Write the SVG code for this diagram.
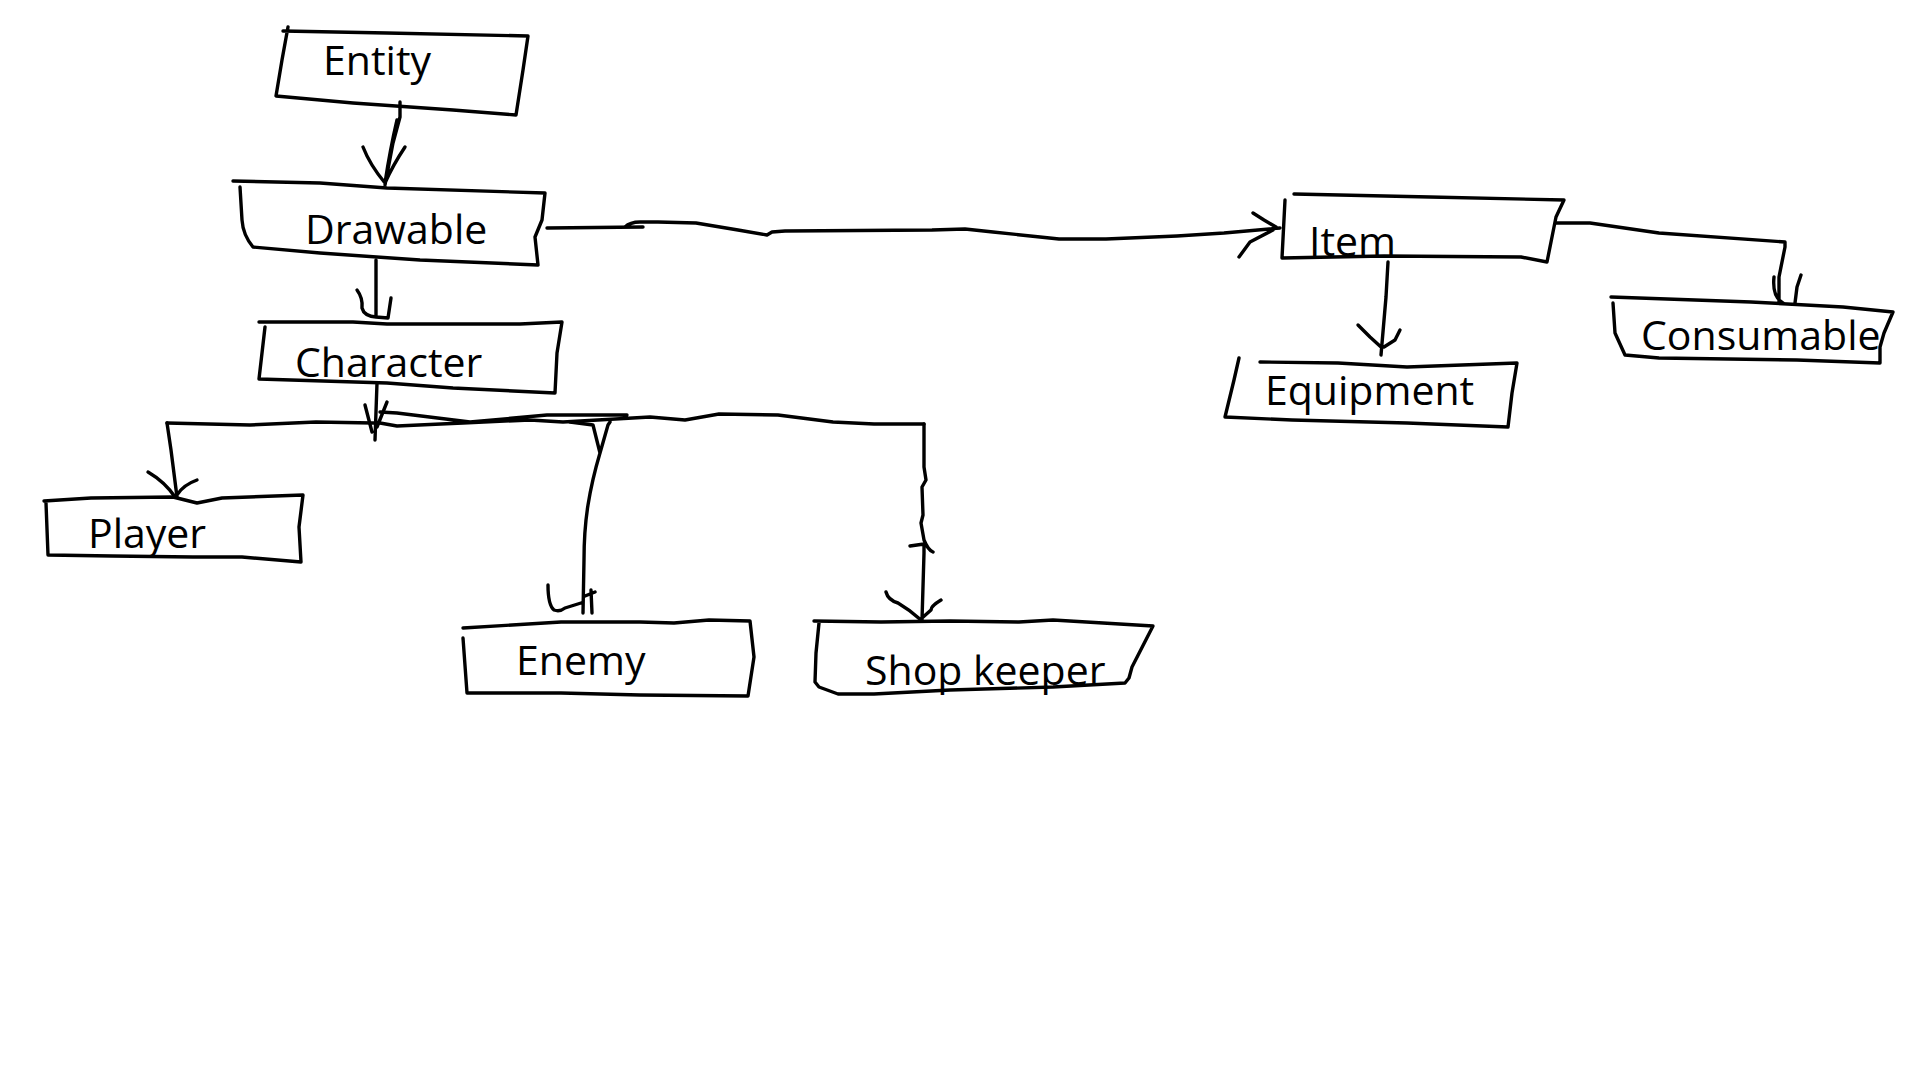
<svg xmlns="http://www.w3.org/2000/svg" width="1920" height="1080" viewBox="0 0 1920 1080">
<style>
.b{fill:none;stroke:#000;stroke-width:3.4;stroke-linejoin:round;stroke-linecap:round}
.c{fill:none;stroke:#000;stroke-width:3.4;stroke-linejoin:round;stroke-linecap:round}
.t{font-family:"Open Sans","Noto Sans","Liberation Sans",sans-serif;font-size:41px;fill:#000}
</style>
<rect width="1920" height="1080" fill="#fff"/>
<g id="connectors">
<path class="c" d="M400,102 L400,117 L393,143 L385,185 M397,120 Q390,150 385,183 M363,147 Q370,165 385,183 M405,147 Q393,165 385,183"/>
<path class="c" d="M376,260 L376,317 M357,290 Q363,298 362,308 Q364,316 376,317 L388,318 L391,298"/>
<path class="c" d="M547,228 L643,227 M625,227 Q630,222 640,222 L658,222 L696,223 L738,230 L767,235 L772,232 L785,231 L932,230 L965,229 L993,232 L1040,237 L1059,239 L1106,239 L1177,236 L1224,233 L1280,228 M1253,213 L1264,220 L1276,227 M1239,257 L1250,242 L1273,230"/>
<path class="c" d="M377,383 L375,440 M365,405 L372,432 M387,402 L377,427"/>
<path class="c" d="M167,423 L250,425 L316,422 L373,423 L380,423 L397,426 L463,423 L530,420 L563,422 L650,417 L685,420 L719,414 L778,415 L833,422 L874,424 L924,424 M380,412 L397,413 L470,422 L547,415 L627,415"/>
<path class="c" d="M167,423 L171,450 L177,497 M148,472 Q165,482 175,497 M197,480 Q183,485 177,495"/>
<path class="c" d="M570,422 L593,425 L600,453 M610,422 L608,425 L600,453 M600,453 Q592,480 588,505 Q584,530 584,560 L583,613 M548,585 Q548,605 554,610 Q560,612 565,608 L581,603 M591,590 L592,613 M585,596 L595,592"/>
<path class="c" d="M924,424 L924,467 L926,480 L922,487 L923,515 L921,523 L924,540 Q928,550 933,552 M910,546 L924,544 L924,553 L922,620 M886,592 Q888,600 898,603 Q910,610 921,620 M941,600 Q931,606 931,610 L922,618"/>
<path class="c" d="M1388,262 L1386,297 L1381,355 M1358,325 L1370,337 L1381,347 M1400,330 L1395,340 L1384,347"/>
<path class="c" d="M1556,223 L1590,223 L1659,233 L1785,242 L1785,247 L1779,277 L1779,303 M1774,277 Q1772,297 1783,303 M1801,275 L1797,287 L1795,303"/>
</g>
<g id="entity">
<path class="b" d="M283,31 L387,33 L528,36 L523,70 L516,115 L453,110 L353,103 L276,96 L282,60 L288,27"/>
<text class="t" x="323" y="75">Entity</text>
</g>
<g id="drawable">
<path class="b" d="M233,181 L320,183 L387,188 L545,193 L542,220 L535,237 L538,265 L420,260 L320,253 L253,247 Q243,235 242,220 L240,187"/>
<text class="t" x="305" y="244">Drawable</text>
</g>
<g id="character">
<path class="b" d="M259,322 L353,322 L387,324 L520,324 L562,322 L557,353 L555,393 L453,388 L387,383 L259,379 L265,327"/>
<text class="t" x="295" y="377">Character</text>
</g>
<g id="player">
<path class="b" d="M44,501 L91,498 L173,497 L197,503 L222,498 L303,495 L299,527 L301,562 L242,557 L193,557 L112,556 L48,555 L46,503"/>
<text class="t" x="88" y="548">Player</text>
</g>
<g id="enemy">
<path class="b" d="M463,628 L561,622 L640,622 L674,623 L709,620 L750,621 L754,657 L748,696 L640,695 L561,693 L467,693 L463,638"/>
<text class="t" x="516" y="675">Enemy</text>
</g>
<g id="shopkeeper">
<path class="b" d="M814,621 L881,622 L950,621 L1019,622 L1053,620 L1153,626 L1132,667 L1129,678 L1125,683 L1053,687 L950,690 L874,694 L838,694 L819,687 L815,682 L816,653 L819,623"/>
<text class="t" x="865" y="685">Shop keeper</text>
</g>
<g id="item">
<path class="b" d="M1294,194 L1430,197 L1564,200 L1556,217 L1554,227 L1547,262 L1521,257 L1384,256 L1282,258 L1285,200"/>
<text class="t" x="1309" y="256">Item</text>
</g>
<g id="equipment">
<path class="b" d="M1260,362 L1338,363 L1407,367 L1517,363 L1512,393 L1508,427 L1407,423 L1292,420 L1225,417 L1234,380 L1239,358"/>
<text class="t" x="1265" y="405">Equipment</text>
</g>
<g id="consumable">
<path class="b" d="M1611,297 L1751,302 L1843,307 L1893,312 L1884,333 L1880,347 L1880,363 L1797,360 L1659,358 L1625,355 L1615,333 L1613,303"/>
<text class="t" x="1641" y="350">Consumable</text>
</g>
</svg>
